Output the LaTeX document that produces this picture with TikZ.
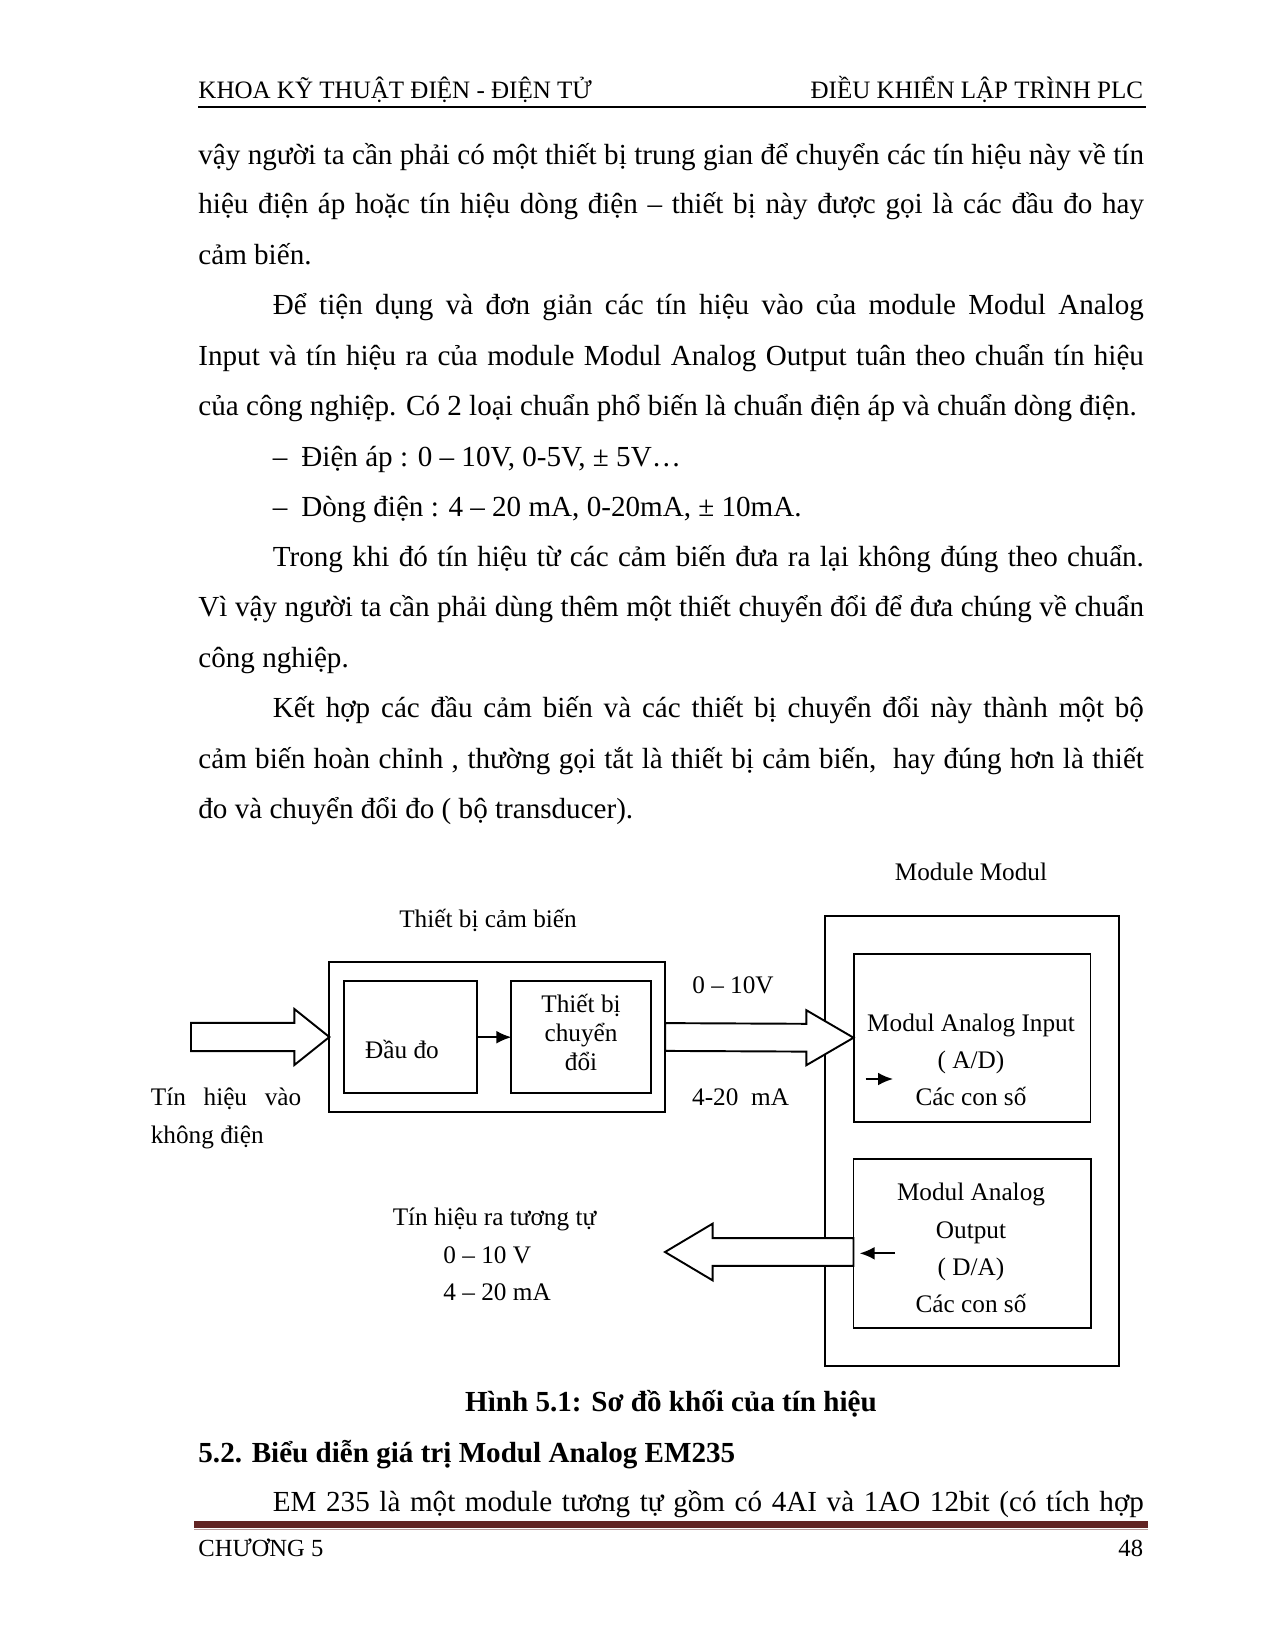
\documentclass[tikz,border=0pt]{standalone}
\usepackage{fontspec}
\setmainfont{Liberation Serif}
\usetikzlibrary{calc,arrows.meta}

\newdimen\pxu \pxu=0.4673pt
\definecolor{barred}{HTML}{622423}

% tail, tip, shaft half width, head half width, head length (negative: points left)
\newcommand{\fatarrow}[5]{%
  \draw[hollow] ($(#1)+(0,-#3)$) -- ($(#2)+({-1*(#5)},-#3)$) -- ($(#2)+({-1*(#5)},-#4)$) -- (#2)
    -- ($(#2)+({-1*(#5)},#4)$) -- ($(#2)+({-1*(#5)},#3)$) -- ($(#1)+(0,#3)$) -- cycle;}

\begin{document}
\begin{tikzpicture}[x=\pxu, y=-\pxu,
  box/.style={draw, line width=0.9pt, outer sep=0pt, inner sep=0pt},
  hollow/.style={draw, line width=0.9pt, fill=white, line join=miter},
  lbl/.style={anchor=base, inner sep=0pt, font=\fontsize{11.8}{14}\selectfont},
  lbll/.style={lbl, anchor=base west},
  body/.style={anchor=base west, inner sep=0pt, font=\fontsize{13.6}{16}\selectfont},
  small/.style={line width=0.9pt, -{Latex[length=7pt,width=6pt]}}]
\useasboundingbox (0,0) rectangle (1274,1649);

% header
\node[body, font=\fontsize{11.7}{14}\selectfont] (head1) at (198,98.5) {KHOA KỸ THUẬT ĐIỆN - ĐIỆN TỬ};
\node[body, anchor=base east, font=\fontsize{11.7}{14}\selectfont] (head2) at (1143.5,98.5) {ĐIỀU KHIỂN LẬP TRÌNH PLC};
\draw[line width=1.3pt] (198,107) -- (1146,107);

% text above the figure
\node[body] (l1) at (198,164.3) {\makebox[945.5\pxu][s]{vậy người ta cần phải có một thiết bị trung gian để chuyển các tín hiệu này về tín}};
\node[body] (l2) at (198,213.8) {\makebox[945.5\pxu][s]{hiệu điện áp hoặc tín hiệu dòng điện – thiết bị này được gọi là các đầu đo hay}};
\node[body] (l3) at (198,264.2) {cảm biến.};
\node[body] (l4) at (272.5,314.5) {\makebox[871\pxu][s]{Để tiện dụng và đơn giản các tín hiệu vào của module Modul Analog}};
\node[body] (l5) at (198,365) {\makebox[945.5\pxu][s]{Input và tín hiệu ra của module Modul Analog Output tuân theo chuẩn tín hiệu}};
\node[body] (l6) at (198,415.5) {của công nghiệp. Có 2 loại chuẩn phổ biến là chuẩn điện áp và chuẩn dòng điện.};
\node[body] (l7) at (272.5,466) {\makebox[28.5\pxu][l]{–}Điện áp : 0 – 10V, 0-5V, ± 5V…};
\node[body] (l8) at (272.5,516.5) {\makebox[28.5\pxu][l]{–}Dòng điện : 4 – 20 mA, 0-20mA, ± 10mA.};
\node[body] (l9) at (272.5,566) {\makebox[871\pxu][s]{Trong khi đó tín hiệu từ các cảm biến đưa ra lại không đúng theo chuẩn.}};
\node[body] (l10) at (198,616.5) {\makebox[945.5\pxu][s]{Vì vậy người ta cần phải dùng thêm một thiết chuyển đổi để đưa chúng về chuẩn}};
\node[body] (l11) at (198,667) {công nghiệp.};
\node[body] (l12) at (272.5,717.5) {\makebox[871\pxu][s]{Kết hợp các đầu cảm biến và các thiết bị chuyển đổi này thành một bộ}};
\node[body] (l13) at (198,768) {\makebox[945.5\pxu][s]{cảm biến hoàn chỉnh , thường gọi tắt là thiết bị cảm biến,\ \ hay đúng hơn là thiết}};
\node[body] (l14) at (198,818.5) {đo và chuyển đổi đo ( bộ transducer).};

% blocks
\node[box, minimum width=335.7\pxu, minimum height=149.4\pxu] (sensor) at (497.2,1037) {};
\node[box, minimum width=133.2\pxu, minimum height=112.3\pxu] (dau) at (410.2,1037.2) {};
\node[box, minimum width=140\pxu, minimum height=112.3\pxu] (conv) at (581.4,1037.2) {};
\node[box, minimum width=293.4\pxu, minimum height=449.7\pxu] (module) at (972,1140.9) {};
\node[box, minimum width=236.9\pxu, minimum height=168\pxu] (ai) at (972,1037.7) {};
\node[box, minimum width=237.2\pxu, minimum height=169\pxu] (da) at (972.1,1243.8) {};

% signal arrows
\coordinate (in) at (191,1037);
\coordinate (daout) at (853.5,1252);
\coordinate (outtip) at (665,1252);
\fatarrow{in}{sensor.west}{14.2}{28}{35}
\fatarrow{sensor.east}{ai.west}{13.9}{27.5}{47.2}
\fatarrow{daout}{outtip}{13.9}{28.4}{-47.7}
\draw[small] (dau) -- (conv);
\coordinate (ai1) at (865.5,1079);
\coordinate (ai2) at (893,1079);
\coordinate (da1) at (895,1253.3);
\coordinate (da2) at (859.6,1253.3);
\draw[small] (ai1) -- (ai2);
\draw[small] (da1) -- (da2);

% labels
\node[lbl] (tmod) at (971,880) {Module Modul};
\node[lbl] (tsen) at (488,927.5) {Thiết bị cảm biến};
\node[lbl] (tv) at (733,993) {0 – 10V};
\node[lbl] (tma) at (740.6,1105) {4-20\ \ mA};
\node[lbl] (tdau) at (402,1058) {Đầu đo};
\node[lbl] (tconv1) at (581,1012.7) {Thiết bị};
\node[lbl] (tconv2) at (581,1041) {chuyển};
\node[lbl] (tconv3) at (581,1070.5) {đổi};
\node[lbl] (tai1) at (971,1031.6) {Modul Analog Input};
\node[lbl] (tai2) at (971,1068.4) {( A/D)};
\node[lbl] (tai3) at (971,1105) {Các con số};
\node[lbll] (tin1) at (150.4,1105) {\makebox[150.5\pxu][s]{Tín hiệu vào}};
\node[lbll] (tin2) at (150.4,1143) {không điện};
\node[lbl] (tout1) at (494.5,1225) {Tín hiệu ra tương tự};
\node[lbll] (tout2) at (443,1263) {0 – 10 V};
\node[lbll] (tout3) at (443,1300) {4 – 20 mA};
\node[lbl] (tda1) at (971,1200) {Modul Analog};
\node[lbl] (tda2) at (971,1238) {Output};
\node[lbl] (tda3) at (971,1275.7) {( D/A)};
\node[lbl] (tda4) at (971,1312.5) {Các con số};

% caption and next section
\node[body, anchor=base, font=\bfseries\fontsize{13.6}{16}\selectfont] (cap) at (671,1411.5) {Hình 5.1: Sơ đồ khối của tín hiệu};
\node[body, font=\bfseries\fontsize{13.6}{16}\selectfont] (sec) at (198,1462) {5.2. Biểu diễn giá trị Modul Analog EM235};
\node[body] (l15) at (272.5,1511) {\makebox[871\pxu][s]{EM 235 là một module tương tự gồm có 4AI và 1AO 12bit (có tích hợp}};

% footer
\fill[barred] (194,1520.7) rectangle (1147.5,1527.5);
\draw[barred!45, line width=0.5pt] (194,1529.8) -- (1147.5,1529.8);
\node[body, font=\fontsize{11.5}{14}\selectfont] (foot1) at (198,1556) {CHƯƠNG 5};
\node[body, anchor=base east, font=\fontsize{11.5}{14}\selectfont] (foot2) at (1143.5,1556) {48};
\end{tikzpicture}
\end{document}
